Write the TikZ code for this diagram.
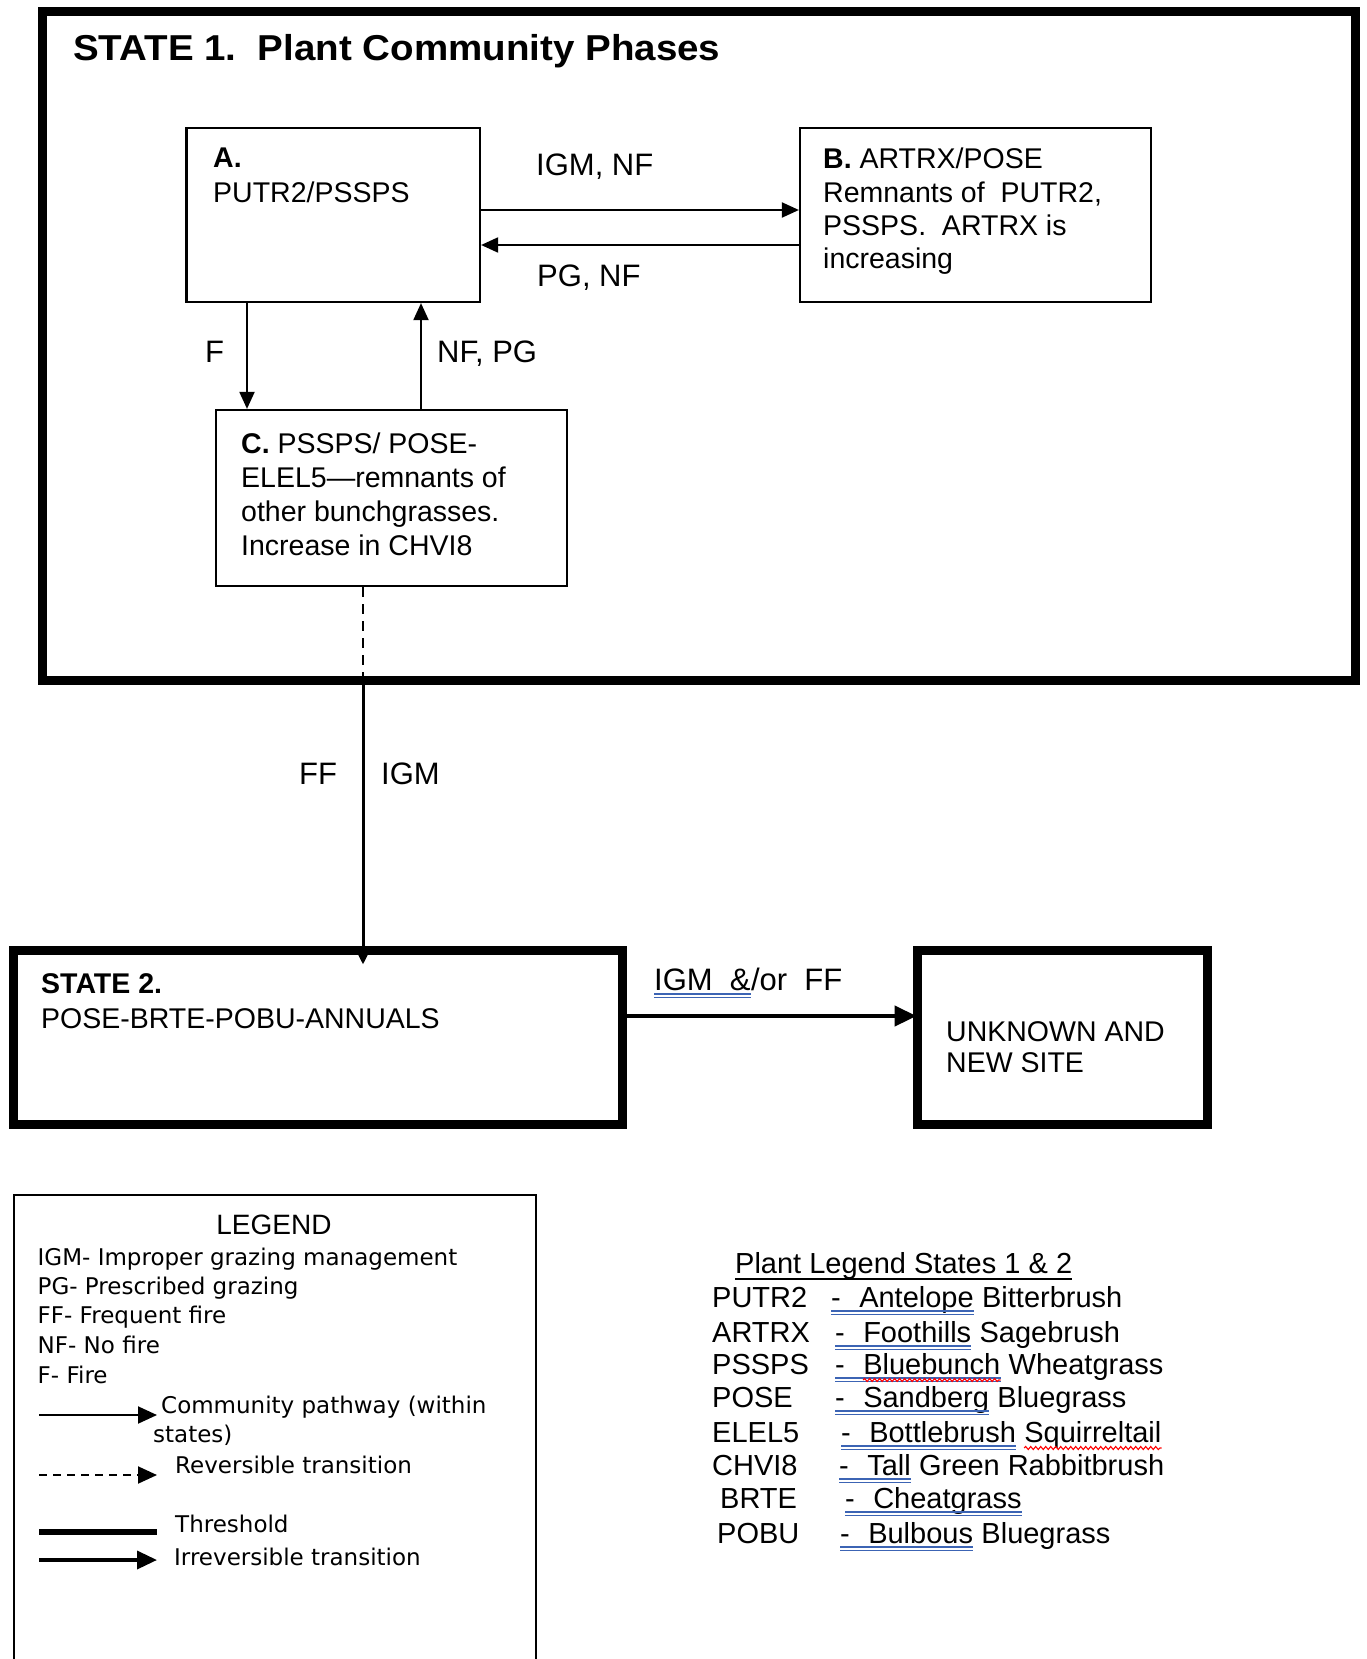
\documentclass[tikz,border=0pt]{standalone}
\usepackage{fontspec}
\setmainfont{Liberation Sans}
\newfontfamily\dejavu{DejaVu Sans}
\newfontfamily\titlefont[FakeStretch=1.07]{Liberation Sans}
\usetikzlibrary{arrows.meta,decorations.pathmorphing}
\definecolor{ulblue}{RGB}{60,100,180}
\newcommand\dblul[2]{%
  \draw[dul] ([yshift=-4pt]#1.base west) -- ([yshift=-4pt]#2.base east);
  \draw[dul] ([yshift=-7.5pt]#1.base west) -- ([yshift=-7.5pt]#2.base east);}
\newcommand\wavyul[1]{%
  \draw[wav] ([yshift=-6pt]#1.base west) -- ([yshift=-6pt]#1.base east);}
\newcommand\dsh{-\kern18pt\relax}
\begin{document}
\begin{tikzpicture}[x=1pt,y=-1pt,
  bx/.style={draw, line width=2.2pt, inner sep=0pt},
  bxk/.style={draw, line width=9pt, inner sep=0pt},
  tx/.style={anchor=base west, inner sep=0pt, font=\fontsize{28.5}{34}\selectfont},
  lb/.style={anchor=base west, inner sep=0pt, font=\fontsize{31}{36}\selectfont},
  lg/.style={anchor=base west, inner sep=0pt, font=\dejavu\fontsize{23}{28}\selectfont},
  pl/.style={anchor=base west, inner sep=0pt, font=\fontsize{29}{34}\selectfont},
  arr/.style={line width=2pt, -{Triangle[length=17pt,width=15pt]}},
  dul/.style={draw=ulblue, line width=1.2pt},
  wav/.style={draw=red, line width=1.1pt, decorate, decoration={snake, amplitude=1.5pt, segment length=5pt}},
]
\useasboundingbox (0,0) rectangle (1366,1659);
\clip (0,0) rectangle (1366,1659);
\fill[white] (0,0) rectangle (1366,1659);

% ---------- STATE 1 ----------
\node[bxk, minimum width=1313pt, minimum height=668pt] (S1) at (698.5,346) {};
\node[anchor=base west, inner sep=0pt, font=\titlefont\bfseries\fontsize{36}{40}\selectfont] (t1) at (73,61) {STATE 1.\ \ Plant Community Phases};

\node[bx, minimum width=293.5pt, minimum height=174pt] (A) at (333.25,215) {};
\node[bx, minimum width=351pt, minimum height=174pt] (B) at (975.5,215) {};
\node[bx, minimum width=351pt, minimum height=176pt] (C) at (391.5,498) {};

\node[tx] (a1) at (213,167) {\textbf{A.}};
\node[tx] (a2) at (213,202) {PUTR2/PSSPS};

\node[tx] (b1) at (823,168) {\textbf{B.} ARTRX/POSE};
\node[tx] (b2) at (823,202) {Remnants of\ \ PUTR2,};
\node[tx] (b3) at (823,235) {PSSPS.\ \ ARTRX is};
\node[tx] (b4) at (823,268) {increasing};

\node[tx] (c1) at (241,453) {\textbf{C.} PSSPS/ POSE-};
\node[tx] (c2) at (241,487) {ELEL5—remnants of};
\node[tx] (c3) at (241,521) {other bunchgrasses.};
\node[tx] (c4) at (241,555) {Increase in CHVI8};

\draw[arr] ([yshift=5pt]A.east) -- ([yshift=5pt]B.west);
\draw[arr] ([yshift=-30pt]B.west) -- ([yshift=-30pt]A.east);
\node[lb] (l1) at (536,175) {IGM, NF};
\node[lb] (l2) at (537,286) {PG, NF};

\coordinate (xAC) at (247,0);
\coordinate (xCA) at (421,0);
\draw[arr] (A.south -| xAC) -- (C.north -| xAC);
\draw[arr] (C.north -| xCA) -- (A.south -| xCA);
\node[lb] (l3) at (205,362) {F};
\node[lb] (l4) at (437,362) {NF, PG};

% ---------- transition to STATE 2 ----------
\coordinate (th) at (363,680);
\draw[line width=1.8pt, dash pattern=on 10pt off 7pt] (C.south -| th) -- (th);

\node[bxk, minimum width=609pt, minimum height=174pt] (S2) at (317.5,1037) {};
\node[bxk, minimum width=290pt, minimum height=174pt] (U) at (1062,1037) {};

\draw[line width=3pt, -{Triangle[length=12pt,width=11pt]}] (th) -- ([yshift=-19pt]S2.north -| th);
\node[lb] (l5) at (299,784) {FF};
\node[lb] (l6) at (381,784) {IGM};

\node[tx] (s21) at (41,993) {\textbf{STATE 2.}};
\node[tx] (s22) at (41,1028) {POSE-BRTE-POBU-ANNUALS};
\node[tx] (u1) at (946,1041) {UNKNOWN AND};
\node[tx] (u2) at (946,1072) {NEW SITE};

\coordinate (yS) at (0,1016);
\draw[line width=4.5pt, -{Triangle[length=22pt,width=20pt]}] (S2.east |- yS) -- ([xshift=4pt]U.west |- yS);
\node[lb] (l7a) at (654,990) {IGM\ \ \&};
\node[lb, anchor=base west] (l7b) at (l7a.base east) {/or\ \ FF};
\dblul{l7a}{l7a}

% ---------- LEGEND ----------
\draw[line width=2pt] (14,1680) -- (14,1195) -- (536,1195) -- (536,1680);
\node[anchor=base, inner sep=0pt, font=\fontsize{28}{32}\selectfont] (lgT) at (274,1234) {LEGEND};
\node[lg] (g1) at (37.5,1265) {IGM- Improper grazing management};
\node[lg] (g2) at (37.5,1294) {PG- Prescribed grazing};
\node[lg] (g3) at (37.5,1323) {FF- Frequent fire};
\node[lg] (g4) at (37.5,1353) {NF- No fire};
\node[lg] (g5) at (37.5,1383) {F- Fire};

\coordinate (k1a) at (39,1415); \coordinate (k1b) at (157,1415);
\draw[line width=2pt, -{Triangle[length=19pt,width=17pt]}] (k1a) -- (k1b);
\node[lg] (g6) at (161,1413) {Community pathway (within};
\node[lg] (g7) at (153,1442) {states)};

\coordinate (k2a) at (39,1475); \coordinate (k2b) at (157,1475);
\draw[line width=2pt, dash pattern=on 8pt off 6pt, -{Triangle[length=19pt,width=17pt]}] (k2a) -- (k2b);
\node[lg] (g8) at (175,1473) {Reversible transition};

\coordinate (k3a) at (39,1532); \coordinate (k3b) at (157,1532);
\draw[line width=6pt] (k3a) -- (k3b);
\node[lg] (g9) at (175,1532) {Threshold};

\coordinate (k4a) at (39,1560); \coordinate (k4b) at (157,1560);
\draw[line width=3.5pt, -{Triangle[length=20pt,width=18pt]}] (k4a) -- (k4b);
\node[lg] (g10) at (174,1565) {Irreversible transition};

% ---------- PLANT LEGEND ----------
\node[pl] (pT) at (735,1273) {Plant Legend States 1 \& 2};
\draw[line width=1.5pt] ([yshift=-6pt]pT.base west) -- ([yshift=-6pt]pT.base east);

\node[pl] (k1) at (712,1307) {PUTR2};
\node[pl] (d1) at (831,1307) {\dsh};
\node[pl] (w1) at (d1.base east) {Antelope};
\node[pl] (r1) at ([xshift=8pt]w1.base east) {Bitterbrush};
\dblul{d1}{w1}

\node[pl] (k2) at (712,1342) {ARTRX};
\node[pl] (d2) at (835,1342) {\dsh};
\node[pl] (w2) at (d2.base east) {Foothills};
\node[pl] (r2) at ([xshift=8pt]w2.base east) {Sagebrush};
\dblul{d2}{w2}

\node[pl] (k3) at (712,1374) {PSSPS};
\node[pl] (d3) at (835,1374) {\dsh};
\node[pl] (w3) at (d3.base east) {Bluebunch};
\node[pl] (r3) at ([xshift=8pt]w3.base east) {Wheatgrass};
\dblul{d3}{w3}
\wavyul{w3}

\node[pl] (k4) at (712,1407) {POSE};
\node[pl] (d4) at (835,1407) {\dsh};
\node[pl] (w4) at (d4.base east) {Sandberg};
\node[pl] (r4) at ([xshift=8pt]w4.base east) {Bluegrass};
\dblul{d4}{w4}

\node[pl] (k5) at (712,1442) {ELEL5};
\node[pl] (d5) at (841,1442) {\dsh};
\node[pl] (w5) at (d5.base east) {Bottlebrush};
\node[pl] (r5) at ([xshift=8pt]w5.base east) {Squirreltail};
\dblul{d5}{w5}
\wavyul{r5}

\node[pl] (k6) at (712,1475) {CHVI8};
\node[pl] (d6) at (839,1475) {\dsh};
\node[pl] (w6) at (d6.base east) {Tall};
\node[pl] (r6) at ([xshift=8pt]w6.base east) {Green Rabbitbrush};
\dblul{d6}{w6}

\node[pl] (k7) at (720,1508) {BRTE};
\node[pl] (d7) at (845,1508) {\dsh};
\node[pl] (w7) at (d7.base east) {Cheatgrass};
\dblul{d7}{w7}

\node[pl] (k8) at (717,1543) {POBU};
\node[pl] (d8) at (840,1543) {\dsh};
\node[pl] (w8) at (d8.base east) {Bulbous};
\node[pl] (r8) at ([xshift=8pt]w8.base east) {Bluegrass};
\dblul{d8}{w8}

\end{tikzpicture}
\end{document}
